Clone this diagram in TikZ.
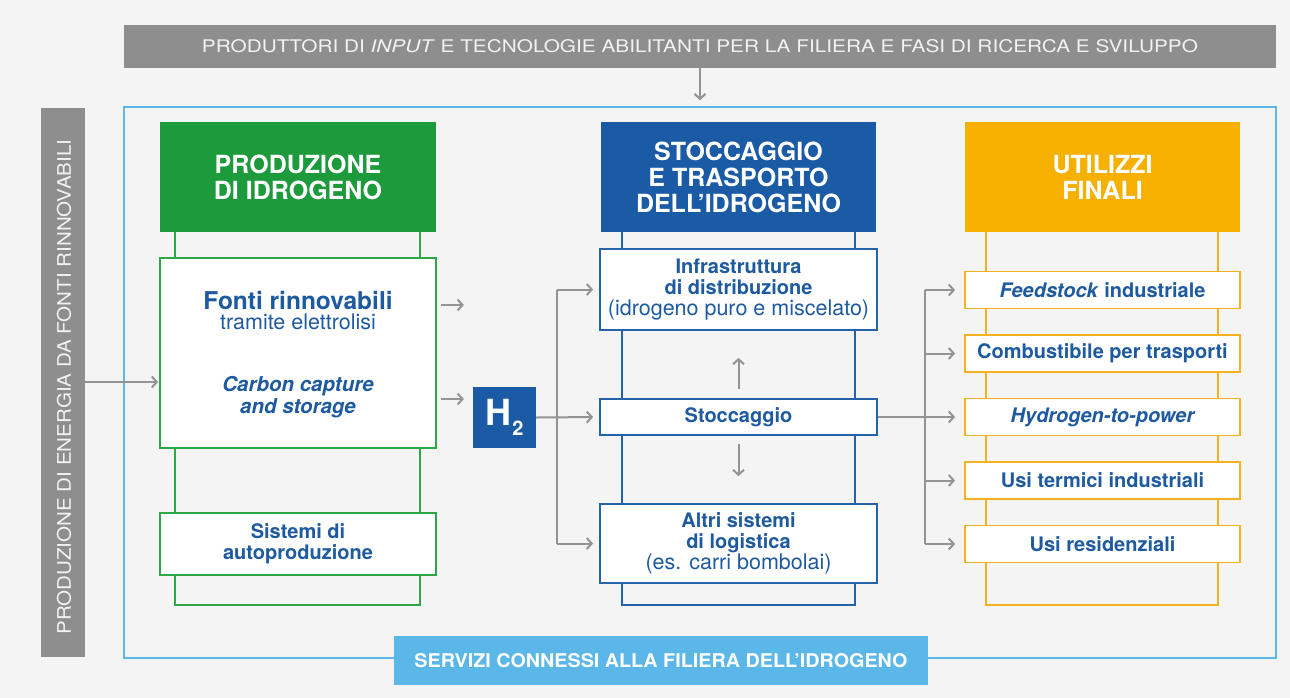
\documentclass[tikz,border=0pt]{standalone}
\usepackage{fontspec}
\setmainfont{TeX Gyre Heros}
\usetikzlibrary{arrows.meta}
\definecolor{bg}{HTML}{F4F4F4}
\definecolor{bgray}{HTML}{8E8E8E}
\definecolor{btext}{HTML}{F2F2F2}
\definecolor{hgreen}{HTML}{1C9A3C}
\definecolor{lgreen}{HTML}{2EA847}
\definecolor{hblue}{HTML}{1B5BA6}
\definecolor{lblue}{HTML}{2662AA}
\definecolor{horange}{HTML}{F5B000}
\definecolor{lorange}{HTML}{F5B21E}
\definecolor{sky}{HTML}{5BB7E8}
\definecolor{tblue}{HTML}{1E5AA0}
\definecolor{agray}{HTML}{939393}
\begin{document}
\begin{tikzpicture}[x=1pt,y=-1pt,
  hdr/.style={draw=none, minimum width=276pt, minimum height=110pt, inner sep=0pt,
    text=white, font=\fontsize{25}{26}\selectfont\bfseries, align=center},
  wbox/.style={fill=white, line width=1.8pt, minimum width=276pt, inner sep=0pt,
    text=tblue, font=\fontsize{20}{21}\selectfont\bfseries, align=center},
  colframe/.style={line width=2pt},
  txt/.style={text=tblue, inner sep=0pt, align=center},
  line/.style={draw=agray, line width=2pt},
  arr/.style={draw=agray, line width=2pt, -{Straight Barb[length=5pt,width=11pt]}},
  banner/.style={inner sep=0pt}
]
\useasboundingbox (0,0) rectangle (1290,698);
\fill[bg] (0,0) rectangle (1290,698);

% outer frame
\draw[sky, line width=1.5pt] (124,107) rectangle (1276,658);

% top banner
\node[banner, fill=bgray, minimum width=1152pt, minimum height=43pt] (top) at (700,46.5) {};
\node[text=btext, inner sep=0pt] (toptxt) at (top.center)
  {\resizebox{996pt}{13pt}{PRODUTTORI DI \textit{INPUT} E TECNOLOGIE ABILITANTI PER LA FILIERA E FASI DI RICERCA E SVILUPPO}};

% left banner
\node[banner, fill=bgray, minimum width=44pt, minimum height=549pt] (left) at (63,382.5) {};
\node[text=btext, inner sep=0pt, rotate=90] (lefttxt) at (64,387)
  {\resizebox{495pt}{14pt}{PRODUZIONE DI ENERGIA DA FONTI RINNOVABILI}};

% bottom banner
\node[banner, fill=sky, minimum width=534pt, minimum height=49pt] (bot) at (661,660.5) {};
\node[text=white, inner sep=0pt] (bottxt) at (661,661)
  {\resizebox{493pt}{14pt}{\bfseries SERVIZI CONNESSI ALLA FILIERA DELL'IDROGENO}};

% ---------- green column
\draw[lgreen, colframe] (175,177) rectangle (420,605);
\node[hdr, fill=hgreen] (gh) at (298,177) {PRODUZIONE\\DI IDROGENO};
\node[wbox, draw=lgreen, minimum height=190pt] (g1) at (298,353) {};
\node[txt, font=\fontsize{24.5}{25}\selectfont\bfseries] (fonti) at (298,300) {Fonti rinnovabili};
\node[txt, font=\fontsize{21.5}{22}\selectfont] (tram) at (298,322) {tramite elettrolisi};
\node[txt, font=\fontsize{20.5}{22}\selectfont\bfseries\itshape] (ccs) at (298,397) {Carbon capture\\and storage};
\node[wbox, draw=lgreen, minimum height=62pt] (g2) at (298,544) {Sistemi di\\autoproduzione};

% ---------- blue column
\draw[lblue, colframe] (622,177) rectangle (855,605);
\node[hdr, fill=hblue, minimum width=275pt] (bh) at (738.5,177) {STOCCAGGIO\\E TRASPORTO\\DELL'IDROGENO};
\node[wbox, draw=lblue, minimum width=277pt, minimum height=81pt] (infra) at (738.5,289.5)
  {Infrastruttura\\di distribuzione\\{\fontseries{m}\fontsize{21.5}{21}\selectfont (idrogeno puro e miscelato)}};
\node[wbox, draw=lblue, minimum width=277pt, minimum height=36pt] (stocc) at (738.5,417) {Stoccaggio};
\node[wbox, draw=lblue, minimum width=277pt, minimum height=79pt] (altri) at (738.5,543.5)
  {Altri sistemi\\di logistica\\{\fontseries{m}\fontsize{21.5}{21}\selectfont (es. carri bombolai)}};

% ---------- orange column
\draw[lorange, colframe] (986,177) rectangle (1218,605);
\node[hdr, fill=horange, minimum width=275pt] (oh) at (1102.5,177) {UTILIZZI\\FINALI};
\node[wbox, draw=lorange, minimum width=275pt, minimum height=37pt] (u1) at (1102.5,290) {\textit{Feedstock} industriale};
\node[wbox, draw=lorange, minimum width=275pt, minimum height=37pt] (u2) at (1102.5,353.5) {Combustibile per trasporti};
\node[wbox, draw=lorange, minimum width=275pt, minimum height=37pt] (u3) at (1102.5,417) {\itshape Hydrogen-to-power};
\node[wbox, draw=lorange, minimum width=275pt, minimum height=37pt] (u4) at (1102.5,480.5) {Usi termici industriali};
\node[wbox, draw=lorange, minimum width=275pt, minimum height=37pt] (u5) at (1102.5,544) {Usi residenziali};

% ---------- H2
\node[fill=hblue, minimum width=63pt, minimum height=61pt, inner sep=0pt, text=white] (h2) at (504.5,417.5)
  {\fontsize{36}{36}\selectfont\bfseries H\kern1pt\raisebox{-10pt}{\fontsize{20}{20}\selectfont 2}};

% ---------- connectors
\draw[arr] (top.south) -- ++(0,32);
\draw[arr] ([yshift=-29pt]g1.west -| left.east) -- ([xshift=-1pt,yshift=-29pt]g1.west);
\draw[arr] ([xshift=4pt,yshift=48pt]g1.east) -- ++(23,0);
\draw[arr] ([xshift=4pt,yshift=-46pt]g1.east) -- ++(23,0);

\coordinate (j1) at (557,417);
\draw[line] (j1 |- infra.west) -- (j1 |- altri.west);
\draw[arr, shorten >=6pt] (h2.east) -- (stocc.west);
\draw[arr, shorten >=6pt] (j1 |- infra.west) -- (infra.west);
\draw[arr, shorten >=6pt] (j1 |- altri.west) -- (altri.west);

\draw[arr] ([yshift=9pt]stocc.north) -- ([yshift=-27pt]infra.south);
\draw[arr] ([yshift=-8pt]stocc.south) -- ([yshift=27pt]altri.north);

\coordinate (j2) at (925,417);
\draw[line] (stocc.east) -- (j2);
\draw[line] (j2 |- u1.west) -- (j2 |- u5.west);
\foreach \u in {u1,u2,u3,u4,u5}
  \draw[arr, shorten >=9pt] (j2 |- \u.west) -- (\u.west);
\end{tikzpicture}
\end{document}
